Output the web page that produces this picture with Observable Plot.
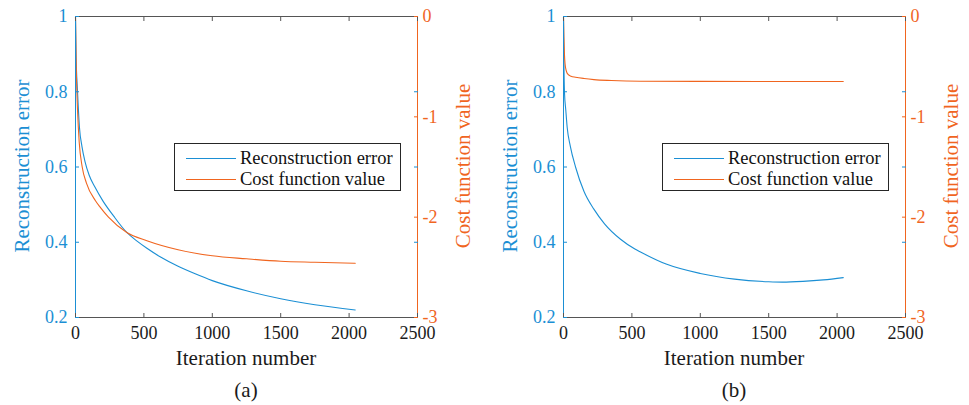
<!DOCTYPE html>
<html>
<head>
<meta charset="utf-8">
<script src="https://cdn.jsdelivr.net/npm/d3@7"></script>
<script src="https://cdn.jsdelivr.net/npm/@observablehq/plot@0.6"></script>
<style>
  body { margin: 0; background: #fff; }
  #root { position: relative; width: 969px; height: 405px; overflow: hidden;
          font-family: "Liberation Serif", "Tinos", "DejaVu Serif", "Noto Serif", serif; }
  .panel { position: absolute; top: 0; width: 484px; height: 405px; }
  .panel svg { position: absolute; left: 0; top: 0; }
  .lab { position: absolute; white-space: nowrap; line-height: 1; transform: translate(-50%, -50%); }
  .rot { transform: translate(-50%, -50%) rotate(-90deg); }
  .legend { position: absolute; border: 1px solid #262626; background: #fff; box-sizing: border-box; }
  .legend .sw { position: absolute; height: 0; border-top: 1.1px solid; }
  .legend .tx { position: absolute; white-space: nowrap; line-height: 1; font-size: 18.5px; color: #111;
                transform: translateY(-50%); }
</style>
</head>
<body>
<div id="root"></div>
<script>
// ---------- data ----------
const xTicks = [0, 500, 1000, 1500, 2000, 2500];
const leftTicks = [0.2, 0.4, 0.6, 0.8, 1];
const rightTicks = [0, -1, -2, -3];
const xDomain = [0, 2500];
const leftDomain = [0.2, 1];
const rightDomain = [-3, 0];
const seriesNames = ["Reconstruction error", "Cost function value"];
const panelLabels = ["(a)", "(b)"];
const xLabel = "Iteration number";
const leftLabel = "Reconstruction error";
const rightLabel = "Cost function value";

// panel (a)
const iterErrA = [0, 4, 15, 29, 47, 69, 100, 140, 200, 278, 375, 450, 522, 625, 750, 875, 1000, 1250, 1500, 1750, 2045];
const errA     = [1.0, 0.9, 0.8, 0.705, 0.655, 0.615, 0.578, 0.548, 0.51, 0.47, 0.426, 0.403, 0.384, 0.36, 0.336, 0.316, 0.298, 0.271, 0.25, 0.234, 0.22];
const iterCostA = [0, 4, 10, 15, 27, 49, 80, 146, 180, 241, 375, 522, 750, 1000, 1250, 1500, 1750, 2045];
const costA     = [0, -0.4, -0.75, -0.94, -1.25, -1.5, -1.66, -1.836, -1.9, -2.0, -2.153, -2.235, -2.325, -2.385, -2.415, -2.44, -2.45, -2.46];

// panel (b)
const iterErrB = [0, 3, 7, 17, 27, 50, 88, 150, 222, 300, 417, 522, 563, 750, 1000, 1250, 1500, 1600, 1750, 1900, 2045];
const errB     = [1.0, 0.88, 0.8, 0.75, 0.705, 0.655, 0.6, 0.535, 0.488, 0.449, 0.408, 0.382, 0.374, 0.342, 0.317, 0.302, 0.295, 0.294, 0.296, 0.3, 0.306];
const iterCostB = [0, 3, 7, 12, 18, 25, 35, 55, 88, 150, 222, 350, 563, 1000, 1500, 2045];
const costB     = [0, -0.2, -0.38, -0.48, -0.53, -0.56, -0.58, -0.595, -0.605, -0.618, -0.629, -0.638, -0.645, -0.647, -0.648, -0.648];

// ---------- styling ----------
const FONT = '"Liberation Serif", "Tinos", "DejaVu Serif", "Noto Serif", serif';
const BLUE = "#1b8fd4";
const ORANGE = "#f0651f";
const FRAME = "#555555";
const TEXT = "#1a1a1a";

// map the right axis (cost) onto the left scale
const toLeft = c => leftDomain[0] + (c - rightDomain[0]) * (leftDomain[1] - leftDomain[0]) / (rightDomain[1] - rightDomain[0]);
const fromLeft = v => rightDomain[0] + (v - leftDomain[0]) * (rightDomain[1] - rightDomain[0]) / (leftDomain[1] - leftDomain[0]);
const fmtL = d => d3.format("~g")(d);
const fmtR = v => String(Math.round(fromLeft(v)) || 0);

const root = document.getElementById("root");

function makePanel(idx, left, mL, mR, iterErr, errV, iterCost, costV) {
  const W = 484, H = 375, mT = 16, mB = 58;
  const err = iterErr.map((x, i) => ({x, v: errV[i]}));
  const cost = iterCost.map((x, i) => ({x, v: toLeft(costV[i])}));
  const rightPos = rightTicks.map(toLeft);

  const chart = Plot.plot({
    width: W, height: H,
    marginLeft: mL, marginRight: mR, marginTop: mT, marginBottom: mB,
    style: {fontFamily: FONT, fontSize: "18px", background: "transparent", overflow: "visible"},
    x: {domain: xDomain},
    y: {domain: leftDomain},
    marks: [
      Plot.line(err, {x: "x", y: "v", stroke: BLUE, strokeWidth: 1.1, curve: "monotone-x"}),
      Plot.line(cost, {x: "x", y: "v", stroke: ORANGE, strokeWidth: 1.1, curve: "monotone-x"}),
      Plot.ruleY([leftDomain[0]], {stroke: FRAME}),
      Plot.ruleY([leftDomain[1]], {stroke: FRAME}),
      Plot.ruleX([xDomain[0]], {stroke: BLUE}),
      Plot.ruleX([xDomain[1]], {stroke: ORANGE}),
      Plot.axisX(xTicks, {anchor: "bottom", tickSize: -4, fill: "none", stroke: FRAME, label: null}),
      Plot.axisX(xTicks, {anchor: "top", tickSize: -4, fill: "none", stroke: FRAME, label: null}),
      Plot.axisX(xTicks, {anchor: "bottom", tickSize: 0, tickPadding: 9, fill: TEXT, label: null, tickFormat: d => String(d)}),
      Plot.axisY(leftTicks, {anchor: "left", tickSize: -4, fill: "none", stroke: BLUE, label: null}),
      Plot.axisY(leftTicks, {anchor: "right", tickSize: -4, fill: "none", stroke: BLUE, label: null}),
      Plot.axisY(leftTicks, {anchor: "left", tickSize: 0, tickPadding: 8, fill: BLUE, label: null, tickFormat: fmtL}),
      Plot.axisY(rightPos, {anchor: "right", tickSize: -4, fill: "none", stroke: ORANGE, label: null}),
      Plot.axisY(rightPos, {anchor: "right", tickSize: 0, tickPadding: 5, fill: ORANGE, label: null, tickFormat: fmtR})
    ]
  });

  const div = document.createElement("div");
  div.className = "panel";
  div.style.left = left + "px";
  div.appendChild(chart);
  root.appendChild(div);

  const [x0, x1] = chart.scale("x").range;
  const yr = chart.scale("y").range;
  const yB = Math.max(...yr), yT = Math.min(...yr);
  const cx = (x0 + x1) / 2, cy = (yB + yT) / 2;

  const addLab = (text, x, y, size, color, rot) => {
    const e = document.createElement("div");
    e.className = "lab" + (rot ? " rot" : "");
    e.textContent = text;
    e.style.left = x + "px";
    e.style.top = y + "px";
    e.style.fontSize = size + "px";
    e.style.color = color;
    div.appendChild(e);
  };
  addLab(xLabel, cx, yB + 41, 21, TEXT, false);
  addLab(leftLabel, x0 - 53, cy - 1, 21, BLUE, true);
  addLab(rightLabel, x1 + 46, cy - 1, 21, ORANGE, true);
  addLab(panelLabels[idx], cx, yB + 73, 21, TEXT, false);

  const lg = document.createElement("div");
  lg.className = "legend";
  lg.style.left = (x0 + 99) + "px";
  lg.style.top = (yT + 127) + "px";
  lg.style.width = "227px";
  lg.style.height = "48px";
  [BLUE, ORANGE].forEach((c, i) => {
    const sw = document.createElement("div");
    sw.className = "sw";
    sw.style.left = "11px";
    sw.style.width = "50px";
    sw.style.top = (13.5 + i * 21) + "px";
    sw.style.borderTopColor = c;
    lg.appendChild(sw);
    const tx = document.createElement("div");
    tx.className = "tx";
    tx.style.left = "65px";
    tx.style.top = (13.5 + i * 21) + "px";
    tx.textContent = seriesNames[i];
    lg.appendChild(tx);
  });
  div.appendChild(lg);
}

makePanel(0, 0, 75, 67, iterErrA, errA, iterCostA, costA);
makePanel(1, 485, 78, 64, iterErrB, errB, iterCostB, costB);
</script>
</body>
</html>
